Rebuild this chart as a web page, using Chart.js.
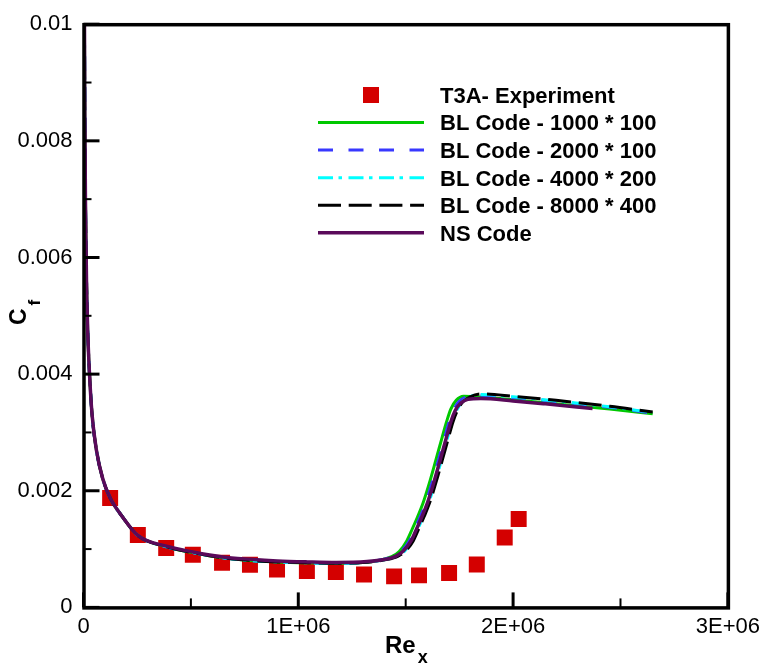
<!DOCTYPE html>
<html>
<head>
<meta charset="utf-8">
<script src="https://cdn.jsdelivr.net/npm/chart.js@4/dist/chart.umd.min.js"></script>
<style>
  html, body { margin: 0; padding: 0; background: #fff; }
  #wrap { width: 766px; height: 668px; }
</style>
</head>
<body>
<div id="wrap"><canvas id="c" width="766" height="668"></canvas></div>
<script>
// ---- data ----------------------------------------------------------------
// T3A flat-plate experiment
const expRe = [124000, 253000, 385000, 509000, 645000, 775000, 901000, 1040000, 1175000, 1306000, 1446000, 1562000, 1702000, 1831000, 1961000, 2026000];
const expCf = [0.001875, 0.001243, 0.001018, 0.000904, 0.000764, 0.00073, 0.00065, 0.000622, 0.000605, 0.000566, 0.000532, 0.000549, 0.000588, 0.000735, 0.001197, 0.001514];

// leading-edge part, common to all computations
const leadRe = [4000, 6000, 9000, 14000, 20000, 28000, 40000, 60000, 90000, 125000, 180000, 254000];
const leadCf = [0.0105, 0.0086, 0.0070, 0.0056, 0.0047, 0.0040, 0.0033, 0.0027, 0.0022, 0.00187, 0.00156, 0.00123];

// BL code, grid 1000 * 100
const bl1000Re = [386000, 510000, 647000, 777000, 902000, 1042000, 1177000, 1300000, 1380000, 1435000, 1470000, 1505000, 1530000, 1555000, 1580000, 1610000, 1640000, 1670000, 1690000, 1710000, 1735000, 1770000, 1830000, 2000000, 2200000, 2450000, 2650000];
const bl1000Cf = [0.00104, 0.00094, 0.00085, 0.000805, 0.00078, 0.000765, 0.000758, 0.00077, 0.00081, 0.00087, 0.00096, 0.00114, 0.00134, 0.00155, 0.00178, 0.00213, 0.00252, 0.00292, 0.00318, 0.0034, 0.00355, 0.00362, 0.00361, 0.00356, 0.00349, 0.0034, 0.00332];

// BL code, grid 2000 * 100
const bl2000Re = [386000, 510000, 647000, 777000, 902000, 1042000, 1177000, 1300000, 1392000, 1447000, 1482000, 1517000, 1542000, 1567000, 1592000, 1622000, 1652000, 1682000, 1702000, 1722000, 1748000, 1785000, 1840000, 2000000, 2200000, 2450000, 2650000];
const bl2000Cf = [0.00104, 0.00094, 0.00085, 0.000805, 0.00078, 0.000765, 0.000758, 0.00077, 0.00082, 0.00088, 0.00097, 0.00114, 0.00134, 0.00155, 0.00178, 0.00213, 0.00252, 0.00292, 0.00318, 0.00338, 0.00353, 0.00361, 0.00364, 0.0036, 0.00353, 0.00343, 0.00333];

// BL code, grid 4000 * 200
const bl4000Re = [386000, 510000, 647000, 777000, 902000, 1042000, 1177000, 1300000, 1406000, 1461000, 1496000, 1531000, 1556000, 1581000, 1606000, 1636000, 1666000, 1696000, 1716000, 1736000, 1762000, 1798000, 1845000, 2000000, 2200000, 2450000, 2650000];
const bl4000Cf = [0.00104, 0.00094, 0.00085, 0.000805, 0.00078, 0.000765, 0.000758, 0.00077, 0.00082, 0.00088, 0.00097, 0.00114, 0.00134, 0.00155, 0.00178, 0.00213, 0.00252, 0.00292, 0.00318, 0.00337, 0.00352, 0.00361, 0.00365, 0.00361, 0.00354, 0.00344, 0.00334];

// BL code, grid 8000 * 400
const bl8000Re = [386000, 510000, 647000, 777000, 902000, 1042000, 1177000, 1300000, 1410000, 1465000, 1500000, 1535000, 1560000, 1585000, 1610000, 1640000, 1670000, 1700000, 1720000, 1740000, 1765000, 1800000, 1850000, 2000000, 2200000, 2450000, 2650000];
const bl8000Cf = [0.00104, 0.00094, 0.00085, 0.000805, 0.00078, 0.000765, 0.000758, 0.00077, 0.00082, 0.00088, 0.00097, 0.00114, 0.00134, 0.00155, 0.00178, 0.00213, 0.00252, 0.00292, 0.00318, 0.00337, 0.00352, 0.00361, 0.00366, 0.00362, 0.00355, 0.00345, 0.00335];

// Navier-Stokes solution
const nsRe = [386000, 510000, 647000, 777000, 902000, 1042000, 1177000, 1320000, 1400000, 1455000, 1490000, 1525000, 1550000, 1575000, 1600000, 1630000, 1660000, 1690000, 1710000, 1730000, 1755000, 1790000, 1850000, 2000000, 2150000, 2370000];
const nsCf = [0.00105, 0.00095, 0.000865, 0.000825, 0.000797, 0.00078, 0.00077, 0.000785, 0.00082, 0.00088, 0.00097, 0.00114, 0.00134, 0.00155, 0.00178, 0.00213, 0.00252, 0.00292, 0.00318, 0.00337, 0.0035, 0.00357, 0.00358, 0.00354, 0.00349, 0.00341];

const seriesNames = ['T3A- Experiment', 'BL Code - 1000 * 100', 'BL Code - 2000 * 100', 'BL Code - 4000 * 200', 'BL Code - 8000 * 400', 'NS Code'];

// axes
const xTickValues = [0, 1000000, 2000000, 3000000];
const xTickLabels = ['0', '1E+06', '2E+06', '3E+06'];
const xMinorTicks = [500000, 1500000, 2500000];
const yTickValues = [0, 0.002, 0.004, 0.006, 0.008, 0.01];
const yTickLabels = ['0', '0.002', '0.004', '0.006', '0.008', '0.01'];
const yMinorTicks = [0.001, 0.003, 0.005, 0.007, 0.009];
const xTitle = 'Re', xTitleSub = 'x';
const yTitle = 'C', yTitleSub = 'f';

// ---- helpers -------------------------------------------------------------
const FONT = '"Liberation Sans", Arial, Helvetica, sans-serif';
const pts = (xs, ys) => xs.map((v, i) => ({ x: v, y: ys[i] }));
const withLead = (xs, ys) => pts(leadRe.concat(xs), leadCf.concat(ys));

function curve(label, data, color, dash, width, order) {
  return {
    label, data, order,
    showLine: true,
    borderColor: color,
    backgroundColor: color,
    borderWidth: width,
    borderDash: dash,
    pointRadius: 0,
    pointHoverRadius: 0,
    cubicInterpolationMode: 'monotone',
    fill: false
  };
}

const datasets = [
  {
    label: seriesNames[0],
    data: pts(expRe, expCf),
    order: 6,
    showLine: false,
    pointStyle: 'rect',
    pointRadius: 11.3,
    pointHoverRadius: 11.3,
    pointBackgroundColor: '#d40000',
    pointBorderWidth: 0,
    borderColor: '#d40000',
    backgroundColor: '#d40000'
  },
  curve(seriesNames[1], withLead(bl1000Re, bl1000Cf), '#00c800', [], 3, 5),
  curve(seriesNames[2], withLead(bl2000Re, bl2000Cf), '#3838ff', [15, 15.5], 3, 4),
  curve(seriesNames[3], withLead(bl4000Re, bl4000Cf), '#00ffff', [15, 5.5, 3.5, 6.5], 3, 3),
  curve(seriesNames[4], withLead(bl8000Re, bl8000Cf), '#000000', [23, 7.7], 3, 2),
  curve(seriesNames[5], withLead(nsRe, nsCf), '#5a0a5a', [], 3.5, 1)
];

// frame, inward ticks, axis titles and legend
const decorations = {
  id: 'decorations',
  afterDatasetsDraw(chart) {
    const { ctx, chartArea: a, scales: { x, y } } = chart;
    ctx.save();
    ctx.strokeStyle = '#000';
    ctx.lineCap = 'butt';
    const seg = (x1, y1, x2, y2, w) => {
      ctx.lineWidth = w;
      ctx.beginPath(); ctx.moveTo(x1, y1); ctx.lineTo(x2, y2); ctx.stroke();
    };
    xTickValues.forEach(v => { const p = x.getPixelForValue(v); seg(p, a.bottom, p, a.bottom - 15, 3); });
    xMinorTicks.forEach(v => { const p = x.getPixelForValue(v); seg(p, a.bottom, p, a.bottom - 9, 2); });
    yTickValues.forEach(v => { const p = y.getPixelForValue(v); seg(a.left, p, a.left + 16, p, 3); });
    yMinorTicks.forEach(v => { const p = y.getPixelForValue(v); seg(a.left, p, a.left + 8, p, 2); });
    ctx.lineWidth = 3.5;
    ctx.strokeRect(a.left + 0.5, a.top + 0.5, a.right - a.left, a.bottom - a.top);
    ctx.restore();
  },
  afterDraw(chart) {
    const { ctx } = chart;
    ctx.save();
    ctx.fillStyle = '#000';
    ctx.textBaseline = 'alphabetic';
    ctx.textAlign = 'left';

    // x-axis title with subscript
    ctx.font = 'bold 24px ' + FONT;
    ctx.fillText(xTitle, 385, 653);
    const wRe = ctx.measureText(xTitle).width;
    ctx.font = 'bold 18px ' + FONT;
    ctx.fillText(xTitleSub, 385 + wRe + 2, 663);

    // y-axis title, rotated, with subscript
    ctx.save();
    ctx.translate(26, 325);
    ctx.rotate(-Math.PI / 2);
    ctx.font = 'bold 23px ' + FONT;
    ctx.fillText(yTitle, 0, 0);
    const wC = ctx.measureText(yTitle).width;
    ctx.font = 'bold 17px ' + FONT;
    ctx.fillText(yTitleSub, wC + 3, 14);
    ctx.restore();

    // legend
    const x0 = 318, x1 = 424, textX = 440, rowTop = 95, rowGap = 27.55;
    chart.data.datasets.forEach((ds, i) => {
      const cy = rowTop + i * rowGap;
      if (!ds.showLine) {
        ctx.fillStyle = ds.pointBackgroundColor;
        ctx.fillRect(363, cy - 8, 16, 16);
      } else {
        ctx.save();
        ctx.strokeStyle = ds.borderColor;
        ctx.lineWidth = ds.borderWidth;
        ctx.setLineDash(ds.borderDash || []);
        ctx.beginPath(); ctx.moveTo(x0, cy); ctx.lineTo(x1, cy); ctx.stroke();
        ctx.restore();
      }
      ctx.fillStyle = '#000';
      ctx.font = 'bold 22px ' + FONT;
      ctx.fillText(ds.label, textX, cy + 7.9);
    });
    ctx.restore();
  }
};

new Chart(document.getElementById('c'), {
  type: 'scatter',
  data: { datasets },
  plugins: [decorations],
  options: {
    responsive: false,
    animation: false,
    devicePixelRatio: 1,
    layout: { padding: { top: 17, right: 37.5, left: 0, bottom: 0 } },
    plugins: { legend: { display: false }, tooltip: { enabled: false } },
    events: [],
    scales: {
      x: {
        type: 'linear',
        min: 0, max: 3000000,
        afterFit: s => { s.height = 60.6; },
        afterBuildTicks: s => { s.ticks = xTickValues.map(v => ({ value: v })); },
        grid: { display: false, drawTicks: false },
        border: { display: false },
        ticks: {
          autoSkip: false, maxRotation: 0, padding: 6,
          color: '#000', font: { family: FONT, size: 22 },
          callback: (v, i) => xTickLabels[i]
        }
      },
      y: {
        type: 'linear',
        min: 0, max: 0.01,
        afterFit: s => { s.width = 83.5; },
        afterBuildTicks: s => { s.ticks = yTickValues.map(v => ({ value: v })); },
        grid: { display: false, drawTicks: false },
        border: { display: false },
        ticks: {
          autoSkip: false, padding: 11,
          color: '#000', font: { family: FONT, size: 22 },
          callback: (v, i) => yTickLabels[i]
        }
      }
    }
  }
});
</script>
</body>
</html>
